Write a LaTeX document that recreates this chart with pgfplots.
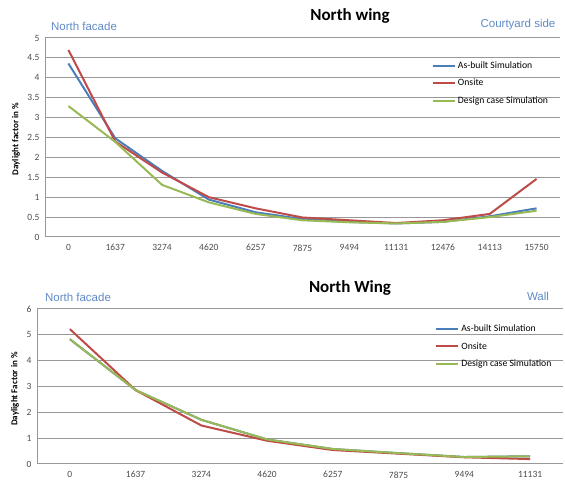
\documentclass[border=0pt]{standalone}
\usepackage{pgfplots}
\pgfplotsset{compat=1.18}
\usepackage{fontspec}
\setmainfont{Carlito}
\newfontfamily\arialf{Liberation Sans}
\definecolor{cblue}{HTML}{4A7EBB}
\definecolor{cred}{HTML}{BE4B48}
\definecolor{cgreen}{HTML}{98B954}
\definecolor{cgrid}{HTML}{989898}
\definecolor{ctext}{HTML}{4D4D4D}
\definecolor{clab}{HTML}{5F8AC6}

\pgfplotsset{
  mystyle/.style={
    scale only axis,
    axis x line*=bottom,
    axis y line*=left,
    axis line style={cgrid, line width=1pt},
    ymajorgrids,
    grid style={cgrid, line width=1pt},
    major tick length=0pt,
    tick style={draw=none},
    xtick={0,...,10},
    ticklabel style={font=\fontsize{9.5}{9.5}\selectfont, text=ctext},
    /pgf/number format/assume math mode=true,
    yticklabel style={xshift=-2pt},
    xticklabel style={yshift=-4pt},
    legend cell align=left,
    legend style={draw=none, fill=none, font=\fontsize{9.7}{9.7}\selectfont,
      row sep=5pt, inner sep=0pt},
    legend image code/.code={\draw[#1, line width=2pt] (0pt,0pt) -- (22pt,0pt);},
    every axis plot/.append style={line width=2pt, mark=none},
  }
}

\begin{document}
\begin{tikzpicture}[x=1pt,y=1pt]
\useasboundingbox (0,0) rectangle (565,484);

% ---------- Top chart ----------
\begin{axis}[mystyle,
  at={(45pt,247pt)}, anchor=south west,
  width=515pt, height=199pt,
  xmin=-0.5, xmax=10.5, ymin=0, ymax=5,
  ytick={0,0.5,...,5},
  yticklabels={0,0.5,1,1.5,2,2.5,3,3.5,4,4.5,5},
  xticklabels={0,1637,3274,4620,6257,7875,9494,11131,12476,14113,15750},
  legend style={at={(0.751,0.89)}, anchor=north west},
]
\addplot[cblue] coordinates {(0,4.36) (1,2.48) (2,1.66) (3,0.94) (4,0.62) (5,0.45) (6,0.38) (7,0.34) (8,0.38) (9,0.52) (10,0.72)};
\addlegendentry{As-built Simulation}
\addplot[cred] coordinates {(0,4.70) (1,2.40) (2,1.62) (3,1.00) (4,0.72) (5,0.49) (6,0.42) (7,0.35) (8,0.42) (9,0.58) (10,1.46)};
\addlegendentry{Onsite}
\addplot[cgreen] coordinates {(0,3.29) (1,2.39) (2,1.31) (3,0.87) (4,0.58) (5,0.42) (6,0.37) (7,0.34) (8,0.38) (9,0.50) (10,0.66)};
\addlegendentry{Design case Simulation}
\end{axis}

\node[font=\bfseries\fontsize{17}{17}\selectfont] at (350,468) {North wing};
\node[font=\arialf\fontsize{11.5}{11.5}\selectfont, text=clab] at (84,458) {North facade};
\node[font=\arialf\fontsize{11.5}{11.5}\selectfont, text=clab] at (518,459) {Courtyard side};
\node[font=\bfseries\fontsize{9}{9}\selectfont, rotate=90] at (16,345) {Daylight factor in \%};

% ---------- Bottom chart ----------
\begin{axis}[mystyle,
  at={(37pt,20pt)}, anchor=south west,
  width=526pt, height=155pt,
  xmin=-0.5, xmax=7.5, ymin=0, ymax=6,
  ytick={0,1,...,6},
  xtick={0,...,7},
  xticklabels={0,1637,3274,4620,6257,7875,9494,11131},
  legend style={at={(0.757,0.91)}, anchor=north west},
]
\addplot[cblue] coordinates {(0,4.83) (1,2.86) (2,1.71) (3,0.95) (4,0.58) (5,0.42) (6,0.27) (7,0.30)};
\addlegendentry{As-built Simulation}
\addplot[cred] coordinates {(0,5.22) (1,2.86) (2,1.49) (3,0.90) (4,0.54) (5,0.40) (6,0.26) (7,0.19)};
\addlegendentry{Onsite}
\addplot[cgreen] coordinates {(0,4.83) (1,2.86) (2,1.71) (3,0.95) (4,0.58) (5,0.42) (6,0.27) (7,0.30)};
\addlegendentry{Design case Simulation}
\end{axis}

\node[font=\bfseries\fontsize{17}{17}\selectfont] at (350,196) {North Wing};
\node[font=\arialf\fontsize{11.5}{11.5}\selectfont, text=clab] at (78,187) {North facade};
\node[font=\arialf\fontsize{11.5}{11.5}\selectfont, text=clab] at (538,188) {Wall};
\node[font=\bfseries\fontsize{9}{9}\selectfont, rotate=90] at (15,95) {Daylight Factor in \%};
\end{tikzpicture}
\end{document}
